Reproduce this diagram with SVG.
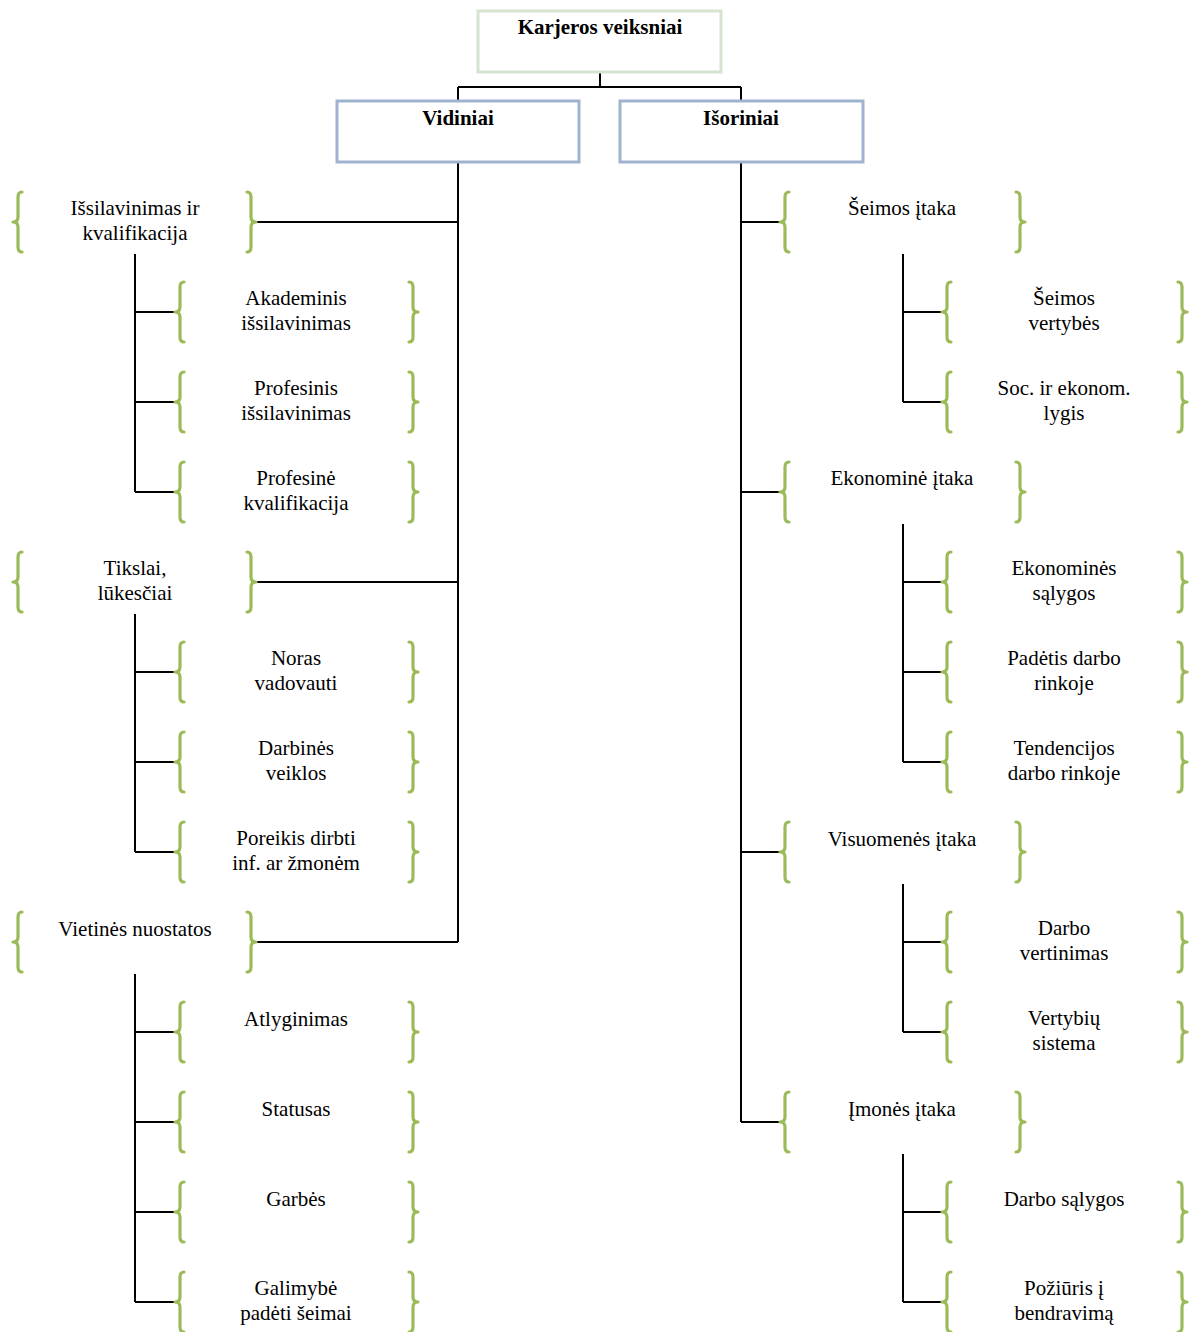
<svg xmlns="http://www.w3.org/2000/svg" xmlns:xlink="http://www.w3.org/1999/xlink" width="1197" height="1332" viewBox="0 0 1197 1332">
<style>
.t{font-family:"Liberation Serif","Times New Roman",serif;font-size:21px;fill:#000;text-anchor:middle}
.b{font-weight:bold}
.br{fill:none;stroke:#9bbb59;stroke-width:3.2;stroke-linecap:round;stroke-linejoin:round}
.c{fill:none;stroke:#000;stroke-width:2}
</style>
<defs>
<path id="lb" class="br" d="M10,1 Q6,1 6,6 L6,26 Q6,31 1,31 Q6,31 6,36 L6,56 Q6,61 10,61"/>
<path id="rb" class="br" d="M0,1 Q4,1 4,6 L4,26 Q4,31 9,31 Q4,31 4,36 L4,56 Q4,61 0,61"/>
</defs>
<rect width="1197" height="1332" fill="#fff"/>
<g id="connectors" class="c">
<path d="M600,72 V87 M458,87 H741 M458,87 V101 M741,87 V101"/>
<path d="M458,162 V942 M458,222 H256 M458,582 H256 M458,942 H256"/>
<path d="M135,254 V492 M135,312 H175 M135,402 H175 M135,492 H175"/>
<path d="M135,614 V852 M135,672 H175 M135,762 H175 M135,852 H175"/>
<path d="M135,974 V1302 M135,1032 H175 M135,1122 H175 M135,1212 H175 M135,1302 H175"/>
<path d="M741,162 V1122 M741,222 H780 M741,492 H780 M741,852 H780 M741,1122 H780"/>
<path d="M903,254 V402 M903,312 H942 M903,402 H942"/>
<path d="M903,524 V762 M903,582 H942 M903,672 H942 M903,762 H942"/>
<path d="M903,884 V1032 M903,942 H942 M903,1032 H942"/>
<path d="M903,1154 V1302 M903,1212 H942 M903,1302 H942"/>
</g>
<g id="root"><rect x="478" y="11" width="243" height="61" fill="#fff" stroke="#d6e3cf" stroke-width="3"/><text class="t b" x="600" y="34">Karjeros veiksniai</text></g>
<g id="vidiniai"><rect x="337" y="101" width="242" height="61" fill="#fff" stroke="#9fb3cf" stroke-width="3"/><text class="t b" x="458" y="125">Vidiniai</text></g>
<g id="isoriniai"><rect x="620" y="101" width="243" height="61" fill="#fff" stroke="#9fb3cf" stroke-width="3"/><text class="t b" x="741" y="125">Išoriniai</text></g>

<g id="n-issilavinimas"><use xlink:href="#lb" x="12" y="191"/><use xlink:href="#rb" x="247" y="191"/><text class="t" x="135" y="215">Išsilavinimas ir</text><text class="t" x="135" y="240">kvalifikacija</text></g>
<g id="n-akademinis"><use xlink:href="#lb" x="174" y="281"/><use xlink:href="#rb" x="409" y="281"/><text class="t" x="296" y="305">Akademinis</text><text class="t" x="296" y="330">išsilavinimas</text></g>
<g id="n-profesinis"><use xlink:href="#lb" x="174" y="371"/><use xlink:href="#rb" x="409" y="371"/><text class="t" x="296" y="395">Profesinis</text><text class="t" x="296" y="420">išsilavinimas</text></g>
<g id="n-profesine"><use xlink:href="#lb" x="174" y="461"/><use xlink:href="#rb" x="409" y="461"/><text class="t" x="296" y="485">Profesinė</text><text class="t" x="296" y="510">kvalifikacija</text></g>
<g id="n-tikslai"><use xlink:href="#lb" x="12" y="551"/><use xlink:href="#rb" x="247" y="551"/><text class="t" x="135" y="575">Tikslai,</text><text class="t" x="135" y="600">lūkesčiai</text></g>
<g id="n-noras"><use xlink:href="#lb" x="174" y="641"/><use xlink:href="#rb" x="409" y="641"/><text class="t" x="296" y="665">Noras</text><text class="t" x="296" y="690">vadovauti</text></g>
<g id="n-darbines"><use xlink:href="#lb" x="174" y="731"/><use xlink:href="#rb" x="409" y="731"/><text class="t" x="296" y="755">Darbinės</text><text class="t" x="296" y="780">veiklos</text></g>
<g id="n-poreikis"><use xlink:href="#lb" x="174" y="821"/><use xlink:href="#rb" x="409" y="821"/><text class="t" x="296" y="845">Poreikis dirbti</text><text class="t" x="296" y="870">inf. ar žmonėm</text></g>
<g id="n-vietines"><use xlink:href="#lb" x="12" y="911"/><use xlink:href="#rb" x="247" y="911"/><text class="t" x="135" y="936">Vietinės nuostatos</text></g>
<g id="n-atlyginimas"><use xlink:href="#lb" x="174" y="1001"/><use xlink:href="#rb" x="409" y="1001"/><text class="t" x="296" y="1026">Atlyginimas</text></g>
<g id="n-statusas"><use xlink:href="#lb" x="174" y="1091"/><use xlink:href="#rb" x="409" y="1091"/><text class="t" x="296" y="1116">Statusas</text></g>
<g id="n-garbes"><use xlink:href="#lb" x="174" y="1181"/><use xlink:href="#rb" x="409" y="1181"/><text class="t" x="296" y="1206">Garbės</text></g>
<g id="n-galimybe"><use xlink:href="#lb" x="174" y="1271"/><use xlink:href="#rb" x="409" y="1271"/><text class="t" x="296" y="1295">Galimybė</text><text class="t" x="296" y="1320">padėti šeimai</text></g>

<g id="n-seimos-itaka"><use xlink:href="#lb" x="779" y="191"/><use xlink:href="#rb" x="1016" y="191"/><text class="t" x="902" y="215">Šeimos įtaka</text></g>
<g id="n-seimos-vertybes"><use xlink:href="#lb" x="941" y="281"/><use xlink:href="#rb" x="1178" y="281"/><text class="t" x="1064" y="305">Šeimos</text><text class="t" x="1064" y="330">vertybės</text></g>
<g id="n-soc"><use xlink:href="#lb" x="941" y="371"/><use xlink:href="#rb" x="1178" y="371"/><text class="t" x="1064" y="395">Soc. ir ekonom.</text><text class="t" x="1064" y="420">lygis</text></g>
<g id="n-ekonomine-itaka"><use xlink:href="#lb" x="779" y="461"/><use xlink:href="#rb" x="1016" y="461"/><text class="t" x="902" y="485">Ekonominė įtaka</text></g>
<g id="n-ekonomines-salygos"><use xlink:href="#lb" x="941" y="551"/><use xlink:href="#rb" x="1178" y="551"/><text class="t" x="1064" y="575">Ekonominės</text><text class="t" x="1064" y="600">sąlygos</text></g>
<g id="n-padetis"><use xlink:href="#lb" x="941" y="641"/><use xlink:href="#rb" x="1178" y="641"/><text class="t" x="1064" y="665">Padėtis darbo</text><text class="t" x="1064" y="690">rinkoje</text></g>
<g id="n-tendencijos"><use xlink:href="#lb" x="941" y="731"/><use xlink:href="#rb" x="1178" y="731"/><text class="t" x="1064" y="755">Tendencijos</text><text class="t" x="1064" y="780">darbo rinkoje</text></g>
<g id="n-visuomenes"><use xlink:href="#lb" x="779" y="821"/><use xlink:href="#rb" x="1016" y="821"/><text class="t" x="902" y="846">Visuomenės įtaka</text></g>
<g id="n-darbo-vertinimas"><use xlink:href="#lb" x="941" y="911"/><use xlink:href="#rb" x="1178" y="911"/><text class="t" x="1064" y="935">Darbo</text><text class="t" x="1064" y="960">vertinimas</text></g>
<g id="n-vertybiu"><use xlink:href="#lb" x="941" y="1001"/><use xlink:href="#rb" x="1178" y="1001"/><text class="t" x="1064" y="1025">Vertybių</text><text class="t" x="1064" y="1050">sistema</text></g>
<g id="n-imones"><use xlink:href="#lb" x="779" y="1091"/><use xlink:href="#rb" x="1016" y="1091"/><text class="t" x="902" y="1116">Įmonės įtaka</text></g>
<g id="n-darbo-salygos"><use xlink:href="#lb" x="941" y="1181"/><use xlink:href="#rb" x="1178" y="1181"/><text class="t" x="1064" y="1206">Darbo sąlygos</text></g>
<g id="n-poziuris"><use xlink:href="#lb" x="941" y="1271"/><use xlink:href="#rb" x="1178" y="1271"/><text class="t" x="1064" y="1295">Požiūris į</text><text class="t" x="1064" y="1320">bendravimą</text></g>
</svg>
